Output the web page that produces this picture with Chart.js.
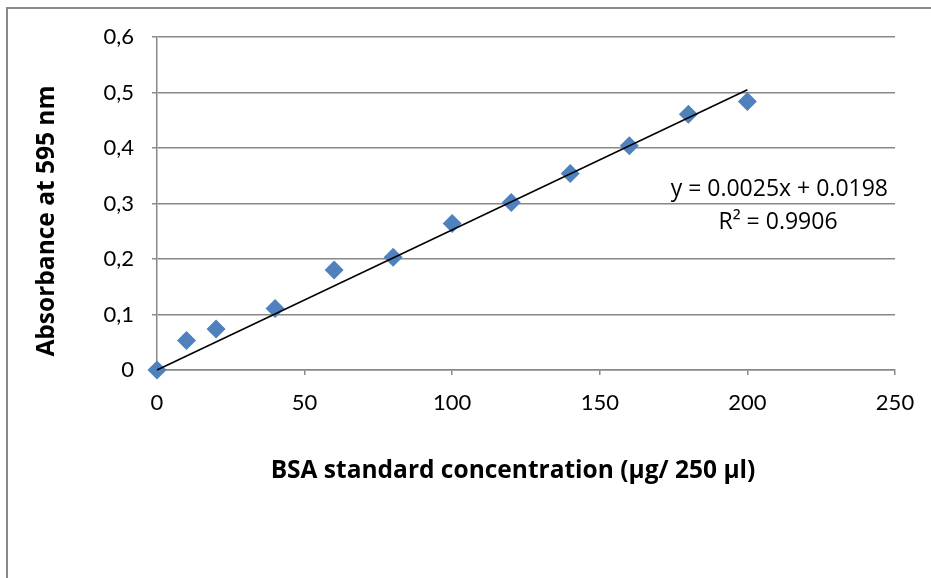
<!DOCTYPE html>
<html>
<head>
<meta charset="utf-8">
<script src="https://cdn.jsdelivr.net/npm/chart.js@4.4.0/dist/chart.umd.min.js"></script>
<style>
  html, body { margin: 0; padding: 0; background: #fff; }
  #wrap { width: 931px; height: 578px; position: relative; }
</style>
</head>
<body>
<div id="wrap"><canvas id="bsaChart"></canvas></div>
<script>
// standard curve readings
const concentrations = [0, 10, 20, 40, 60, 80, 100, 120, 140, 160, 180, 200];
const absorbance = [0, 0.053, 0.074, 0.111, 0.180, 0.203, 0.264, 0.302, 0.354, 0.404, 0.461, 0.484];

// trendline as drawn on the chart
const trendX = [0, 200];
const trendY = [0, 0.505];

const yTickLabels = ['0', '0,1', '0,2', '0,3', '0,4', '0,5', '0,6'];
const xTickLabels = ['0', '50', '100', '150', '200', '250'];

const xTitle = 'BSA standard concentration (µg/ 250 µl)';
const yTitle = 'Absorbance at 595 nm';
const eqLine1 = 'y = 0.0025x + 0.0198';
const eqLine2 = 'R² = 0.9906';

const FONT = 'Lato, "Open Sans", sans-serif';
const TITLE_FONT = '"Open Sans", Lato, sans-serif';
const GRID = '#888888';

// border + axis titles + trend equation
const extras = {
  id: 'extras',
  beforeDraw(chart) {
    const ctx = chart.ctx;
    ctx.save();
    ctx.strokeStyle = '#8a8a8a';
    ctx.lineWidth = 2;
    ctx.beginPath();
    ctx.moveTo(7, 600);
    ctx.lineTo(7, 8);
    ctx.lineTo(960, 8);
    ctx.stroke();
    ctx.restore();
  },
  afterDraw(chart) {
    const ctx = chart.ctx;
    ctx.save();
    ctx.fillStyle = '#000';
    ctx.textAlign = 'center';
    ctx.textBaseline = 'middle';
    ctx.font = 'bold 24.5px ' + TITLE_FONT;
    ctx.fillText(xTitle, 513, 471);
    ctx.translate(47, 221);
    ctx.rotate(-Math.PI / 2);
    ctx.fillText(yTitle, 0, 0);
    ctx.restore();

    ctx.save();
    ctx.fillStyle = '#000';
    ctx.font = '23px ' + TITLE_FONT;
    ctx.textBaseline = 'middle';
    ctx.textAlign = 'right';
    ctx.fillText(eqLine1, 888, 189);
    ctx.textAlign = 'center';
    ctx.fillText(eqLine2, 778, 222);
    ctx.restore();
  }
};

const ctx = document.getElementById('bsaChart');
new Chart(ctx, {
  type: 'scatter',
  data: {
    datasets: [{
      label: 'Trend',
      type: 'line',
      data: trendX.map((x, i) => ({ x: x, y: trendY[i] })),
      borderColor: '#000',
      borderWidth: 1.5,
      pointRadius: 0,
      fill: false,
      order: 0,
      clip: false
    }, {
      label: 'Absorbance',
      data: concentrations.map((x, i) => ({ x: x, y: absorbance[i] })),
      pointStyle: 'rectRot',
      pointRadius: 9.5,
      pointHoverRadius: 9.5,
      backgroundColor: '#4f81bd',
      borderColor: '#4f81bd',
      borderWidth: 0,
      order: 1,
      clip: false
    }]
  },
  options: {
    responsive: true,
    maintainAspectRatio: false,
    animation: false,
    layout: {
      padding: { left: 0, right: 36, top: 37, bottom: 0 }
    },
    plugins: {
      legend: { display: false },
      tooltip: { enabled: false }
    },
    scales: {
      x: {
        type: 'linear',
        min: 0,
        max: 250,
        afterFit: s => { s.height = 208; },
        ticks: {
          stepSize: 50,
          color: '#000',
          padding: 15,
          font: { family: FONT, size: 22 },
          callback: (v, i) => xTickLabels[i]
        },
        grid: {
          drawOnChartArea: false,
          drawTicks: true,
          tickLength: 5,
          color: GRID,
          lineWidth: 1.5
        },
        border: { color: GRID, width: 1.5 }
      },
      y: {
        type: 'linear',
        min: 0,
        max: 0.6,
        afterFit: s => { s.width = 157; },
        ticks: {
          stepSize: 0.1,
          color: '#000',
          padding: 18,
          font: { family: FONT, size: 22 },
          callback: (v, i) => yTickLabels[i]
        },
        grid: {
          color: GRID,
          lineWidth: 1.5,
          tickLength: 5
        },
        border: { color: GRID, width: 1.5 }
      }
    }
  },
  plugins: [extras]
});
</script>
</body>
</html>
